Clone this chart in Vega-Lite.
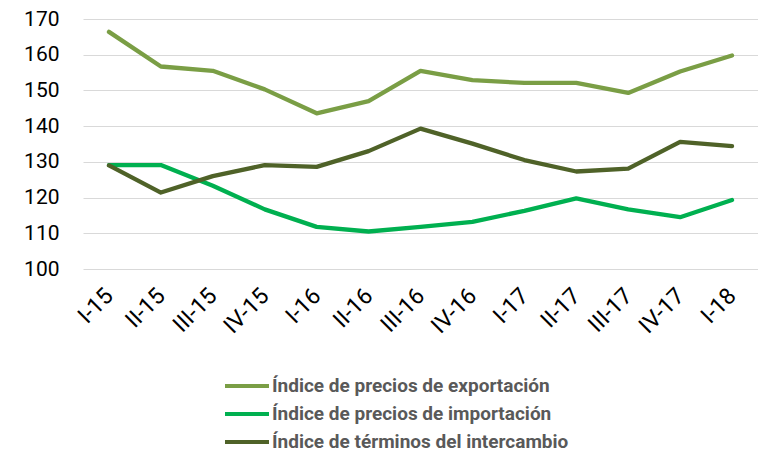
{
  "$schema": "https://vega.github.io/schema/vega-lite/v6.json",
  "width": 675,
  "height": 250,
  "autosize": {"type": "none"},
  "padding": {"left": 83, "top": 19, "right": 0, "bottom": 183},
  "background": "white",
  "config": {"view": {"stroke": null}, "font": "Roboto"},
  "data": {
    "values": [
      {"q": "I-15", "s": "Índice de precios de exportación", "v": 166.4},
      {"q": "II-15", "s": "Índice de precios de exportación", "v": 156.7},
      {"q": "III-15", "s": "Índice de precios de exportación", "v": 155.5},
      {"q": "IV-15", "s": "Índice de precios de exportación", "v": 150.3},
      {"q": "I-16", "s": "Índice de precios de exportación", "v": 143.6},
      {"q": "II-16", "s": "Índice de precios de exportación", "v": 147.0},
      {"q": "III-16", "s": "Índice de precios de exportación", "v": 155.5},
      {"q": "IV-16", "s": "Índice de precios de exportación", "v": 152.9},
      {"q": "I-17", "s": "Índice de precios de exportación", "v": 152.1},
      {"q": "II-17", "s": "Índice de precios de exportación", "v": 152.1},
      {"q": "III-17", "s": "Índice de precios de exportación", "v": 149.3},
      {"q": "IV-17", "s": "Índice de precios de exportación", "v": 155.3},
      {"q": "I-18", "s": "Índice de precios de exportación", "v": 159.8},
      {"q": "I-15", "s": "Índice de precios de importación", "v": 129.1},
      {"q": "II-15", "s": "Índice de precios de importación", "v": 129.1},
      {"q": "III-15", "s": "Índice de precios de importación", "v": 123.3},
      {"q": "IV-15", "s": "Índice de precios de importación", "v": 116.7},
      {"q": "I-16", "s": "Índice de precios de importación", "v": 111.8},
      {"q": "II-16", "s": "Índice de precios de importación", "v": 110.5},
      {"q": "III-16", "s": "Índice de precios de importación", "v": 111.8},
      {"q": "IV-16", "s": "Índice de precios de importación", "v": 113.2},
      {"q": "I-17", "s": "Índice de precios de importación", "v": 116.3},
      {"q": "II-17", "s": "Índice de precios de importación", "v": 119.8},
      {"q": "III-17", "s": "Índice de precios de importación", "v": 116.7},
      {"q": "IV-17", "s": "Índice de precios de importación", "v": 114.5},
      {"q": "I-18", "s": "Índice de precios de importación", "v": 119.3},
      {"q": "I-15", "s": "Índice de términos del intercambio", "v": 129.0},
      {"q": "II-15", "s": "Índice de términos del intercambio", "v": 121.4},
      {"q": "III-15", "s": "Índice de términos del intercambio", "v": 126.0},
      {"q": "IV-15", "s": "Índice de términos del intercambio", "v": 129.1},
      {"q": "I-16", "s": "Índice de términos del intercambio", "v": 128.6},
      {"q": "II-16", "s": "Índice de términos del intercambio", "v": 133.0},
      {"q": "III-16", "s": "Índice de términos del intercambio", "v": 139.3},
      {"q": "IV-16", "s": "Índice de términos del intercambio", "v": 135.1},
      {"q": "I-17", "s": "Índice de términos del intercambio", "v": 130.5},
      {"q": "II-17", "s": "Índice de términos del intercambio", "v": 127.3},
      {"q": "III-17", "s": "Índice de términos del intercambio", "v": 128.1},
      {"q": "IV-17", "s": "Índice de términos del intercambio", "v": 135.6},
      {"q": "I-18", "s": "Índice de términos del intercambio", "v": 134.4}
    ]
  },
  "mark": {"type": "line", "strokeWidth": 4.3, "strokeCap": "round", "strokeJoin": "round"},
  "encoding": {
    "x": {
      "field": "q",
      "type": "ordinal",
      "sort": null,
      "scale": {"type": "point", "padding": 0.5},
      "axis": {
        "title": null,
        "domain": false,
        "ticks": false,
        "grid": false,
        "labelAngle": -45,
        "labelAlign": "right",
        "labelBaseline": "middle",
        "labelFont": "Roboto",
        "labelFontSize": 23,
        "labelColor": "#000000",
        "labelPadding": 23
      }
    },
    "y": {
      "field": "v",
      "type": "quantitative",
      "scale": {"domain": [100, 170], "nice": false, "zero": false},
      "axis": {
        "title": null,
        "domain": false,
        "ticks": false,
        "values": [100, 110, 120, 130, 140, 150, 160, 170],
        "grid": true,
        "gridColor": "#D9D9D9",
        "gridWidth": 1.2,
        "labelFont": "Roboto",
        "labelFontSize": 21,
        "labelColor": "#000000",
        "labelPadding": 24
      }
    },
    "color": {
      "field": "s",
      "type": "nominal",
      "scale": {
        "domain": ["Índice de precios de exportación", "Índice de precios de importación", "Índice de términos del intercambio"],
        "range": ["#7A9E45", "#00B050", "#4F6228"]
      },
      "legend": {
        "title": null,
        "orient": "none",
        "legendX": 151,
        "legendY": 354,
        "direction": "vertical",
        "symbolType": "M-2,0L2,0",
        "symbolSize": 484,
        "symbolStrokeWidth": 4,
        "labelFont": "Roboto",
        "labelFontWeight": "bold",
        "labelFontSize": 19,
        "labelColor": "#595959",
        "labelOffset": 12,
        "rowPadding": 5,
        "labelLimit": 400
      }
    }
  }
}
